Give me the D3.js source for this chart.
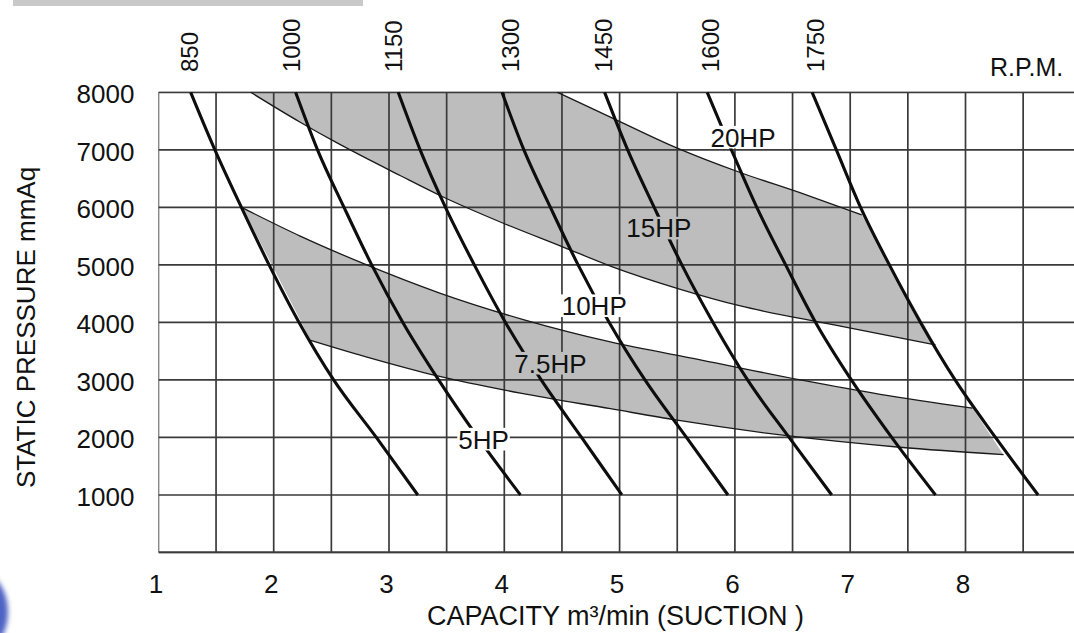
<!DOCTYPE html>
<html><head><meta charset="utf-8">
<script src="https://cdn.jsdelivr.net/npm/d3@7"></script>
<style>
html,body{margin:0;padding:0;background:#fff;overflow:hidden}
svg{display:block;font-family:"Liberation Sans",Arial,Helvetica,sans-serif}
</style></head><body>
<svg id="chart" width="1074" height="633"></svg>
<script>
// ---------- data ----------
const pressureTicks = [1000, 2000, 3000, 4000, 5000, 6000, 7000, 8000];
const capacityTicks = [1, 2, 3, 4, 5, 6, 7, 8];
const rpmLabels = ["850", "1000", "1150", "1300", "1450", "1600", "1750"];
const rpmLabelAt = [1.27, 2.15, 3.04, 4.05, 4.86, 5.79, 6.70];
const linePressures = [8000, 7000, 6000, 5000, 4000, 3000, 2000, 1000];
const rpm850  = [1.28, 1.49, 1.72, 1.96, 2.22, 2.52, 2.89, 3.25];
const rpm1000 = [2.19, 2.38, 2.61, 2.85, 3.12, 3.43, 3.77, 4.14];
const rpm1150 = [3.08, 3.27, 3.49, 3.74, 4.01, 4.32, 4.67, 5.02];
const rpm1300 = [3.98, 4.17, 4.40, 4.64, 4.91, 5.22, 5.58, 5.94];
const rpm1450 = [4.87, 5.07, 5.30, 5.54, 5.81, 6.11, 6.47, 6.84];
const rpm1600 = [5.76, 5.97, 6.19, 6.44, 6.70, 7.01, 7.36, 7.74];
const rpm1750 = [6.67, 6.88, 7.09, 7.34, 7.61, 7.91, 8.26, 8.63];
const rpmSeries = [rpm850, rpm1000, rpm1150, rpm1300, rpm1450, rpm1600, rpm1750];

// HP boundary curves (capacity, pressure)
const curveAcap = [2.32, 2.84, 3.42, 4.14, 4.92, 5.50, 6.45, 7.43, 8.33];
const curveAp   = [3690, 3380, 3070, 2770, 2500, 2300, 2030, 1830, 1700];
const curveBcap = [1.73, 2.23, 2.77, 3.44, 4.18, 4.92, 5.70, 6.57, 7.26, 8.06];
const curveBp   = [5990, 5500, 5030, 4510, 4040, 3660, 3350, 3000, 2750, 2510];
const curveCcap = [1.80, 2.23, 2.55, 3.10, 3.47, 3.96, 4.51, 4.92, 5.52, 6.04, 6.85, 7.74];
const curveCp   = [8000, 7480, 7120, 6550, 6180, 5750, 5310, 4980, 4580, 4290, 3960, 3610];
const curveDcap = [4.46, 4.92, 5.50, 6.04, 6.57, 7.10];
const curveDp   = [8000, 7570, 7030, 6610, 6250, 5870];

const hpLabels   = ["5HP", "7.5HP", "10HP", "15HP", "20HP"];
const hpLabelCap = [3.82, 4.40, 4.78, 5.34, 6.07];
const hpLabelP   = [1970, 3290, 4290, 5640, 7220];

// ---------- drawing ----------
const svg = d3.select("#chart");
const X0 = 158.4, X1 = 1074, Y0 = 92.3, Y1 = 552.5;
const x = d3.scaleLinear().domain([1, 9]).range([X0, 1080.8]);
const y = d3.scaleLinear().domain([0, 8000]).range([Y1, Y0]);
const BAND = "#bdbdbd";

const defs = svg.append("defs");
defs.append("filter").attr("id", "blur").append("feGaussianBlur").attr("stdDeviation", 2.5);
defs.append("clipPath").attr("id", "plotClip").append("rect")
  .attr("x", X0).attr("y", Y0 - 1).attr("width", X1 - X0).attr("height", Y1 - Y0 + 2);

// top gray strip & blue blob (cropped elements of the source picture)
svg.append("rect").attr("x", 13).attr("y", 0).attr("width", 350).attr("height", 6).attr("fill", "#c9c9c9");
svg.append("ellipse").attr("cx", -20).attr("cy", 612).attr("rx", 28).attr("ry", 40)
  .attr("fill", "#4f63c4").attr("filter", "url(#blur)");

const plot = svg.append("g").attr("clip-path", "url(#plotClip)");
const lineGen = d3.line().curve(d3.curveMonotoneX);
const toPts = (caps, ps) => caps.map((c, i) => [x(c), y(ps[i])]);

const ptsA = toPts(curveAcap, curveAp);
const ptsB = toPts(curveBcap, curveBp);
const ptsC = toPts(curveCcap, curveCp);
const ptsD = toPts(curveDcap, curveDp);

// bands
const lowerPath = lineGen(ptsB) + "L" + lineGen(ptsA.slice().reverse()).slice(1) + "Z";
const upperPath = "M" + ptsC[0].join(",") + "L" + lineGen(ptsD).slice(1) +
  "L" + lineGen(ptsC.slice().reverse()).slice(1) + "Z";
plot.append("path").attr("d", lowerPath).attr("fill", BAND);
plot.append("path").attr("d", upperPath).attr("fill", BAND);

// grid
const grid = plot.append("g").attr("stroke", "#3a3a3a").attr("stroke-width", 1.7);
grid.selectAll("line.v").data(d3.range(1, 9.01, 0.5)).join("line")
  .attr("x1", d => x(d)).attr("x2", d => x(d)).attr("y1", Y0).attr("y2", Y1);
grid.selectAll("line.h").data(d3.range(0, 8001, 1000)).join("line")
  .attr("x1", X0).attr("x2", X1).attr("y1", d => y(d)).attr("y2", d => y(d))
  .attr("stroke-width", d => d === 0 ? 2.6 : 1.7);

// HP boundary curves
[ptsA, ptsB, ptsC, ptsD].forEach(p => {
  plot.append("path").attr("d", lineGen(p)).attr("fill", "none")
    .attr("stroke", "#1a1a1a").attr("stroke-width", 1.3);
});

// RPM lines
rpmSeries.forEach(s => {
  plot.append("path").attr("d", lineGen(s.map((c, i) => [x(c), y(linePressures[i])])))
    .attr("fill", "none").attr("stroke", "#0d0d0d").attr("stroke-width", 3.1);
});

// HP labels with background patches
const lowerPoly = ptsB.concat(ptsA.slice().reverse());
const upperPoly = [ptsC[0]].concat(ptsD, ptsC.slice().reverse());
const fs = 26;
hpLabels.forEach((t, i) => {
  const px = x(hpLabelCap[i]), py = y(hpLabelP[i]);
  const inBand = d3.polygonContains(lowerPoly, [px, py]) || d3.polygonContains(upperPoly, [px, py]);
  const g = svg.append("g");
  const r = g.append("rect");
  const txt = g.append("text").attr("x", px).attr("y", py).attr("dy", "0.36em")
    .attr("text-anchor", "middle").attr("font-size", fs).attr("fill", "#111").text(t);
  const w = txt.node().getComputedTextLength();
  const h = fs * 0.716 + 4;
  r.attr("x", px - w / 2 - 1).attr("y", py - h / 2).attr("width", w + 2).attr("height", h)
    .attr("fill", inBand ? BAND : "#fff");
});

// axes
const yAxis = svg.append("g").attr("transform", `translate(${X0},1)`)
  .call(d3.axisLeft(y).tickValues(pressureTicks).tickSize(0).tickPadding(24).tickFormat(d3.format("d")));
const xAxis = svg.append("g").attr("transform", `translate(-3,${Y1})`)
  .call(d3.axisBottom(x).tickValues(capacityTicks).tickSize(0).tickPadding(22).tickFormat(d3.format("d")));
[yAxis, xAxis].forEach(a => {
  a.select(".domain").remove();
  a.selectAll("text").attr("font-size", 26).attr("fill", "#111")
    .attr("font-family", "'Liberation Sans',Arial,sans-serif");
});
yAxis.selectAll("text").attr("dy", "0.36em");

// RPM labels (top)
svg.append("g").selectAll("text").data(rpmLabels).join("text")
  .attr("transform", (d, i) => `translate(${x(rpmLabelAt[i]) + 8.6},72) rotate(-90)`)
  .attr("text-anchor", "start").attr("font-size", 24).attr("fill", "#111").text(d => d);
svg.append("text").attr("x", 990).attr("y", 76).attr("font-size", 25).attr("fill", "#111").text("R.P.M.");

// axis titles
svg.append("text").attr("transform", "translate(34.5,327.5) rotate(-90)")
  .attr("text-anchor", "middle").attr("font-size", 26).attr("fill", "#111").text("STATIC PRESSURE mmAq");
svg.append("text").attr("x", 615.5).attr("y", 625).attr("text-anchor", "middle")
  .attr("font-size", 27).attr("fill", "#111").text("CAPACITY m³/min (SUCTION )");
</script>
</body></html>
